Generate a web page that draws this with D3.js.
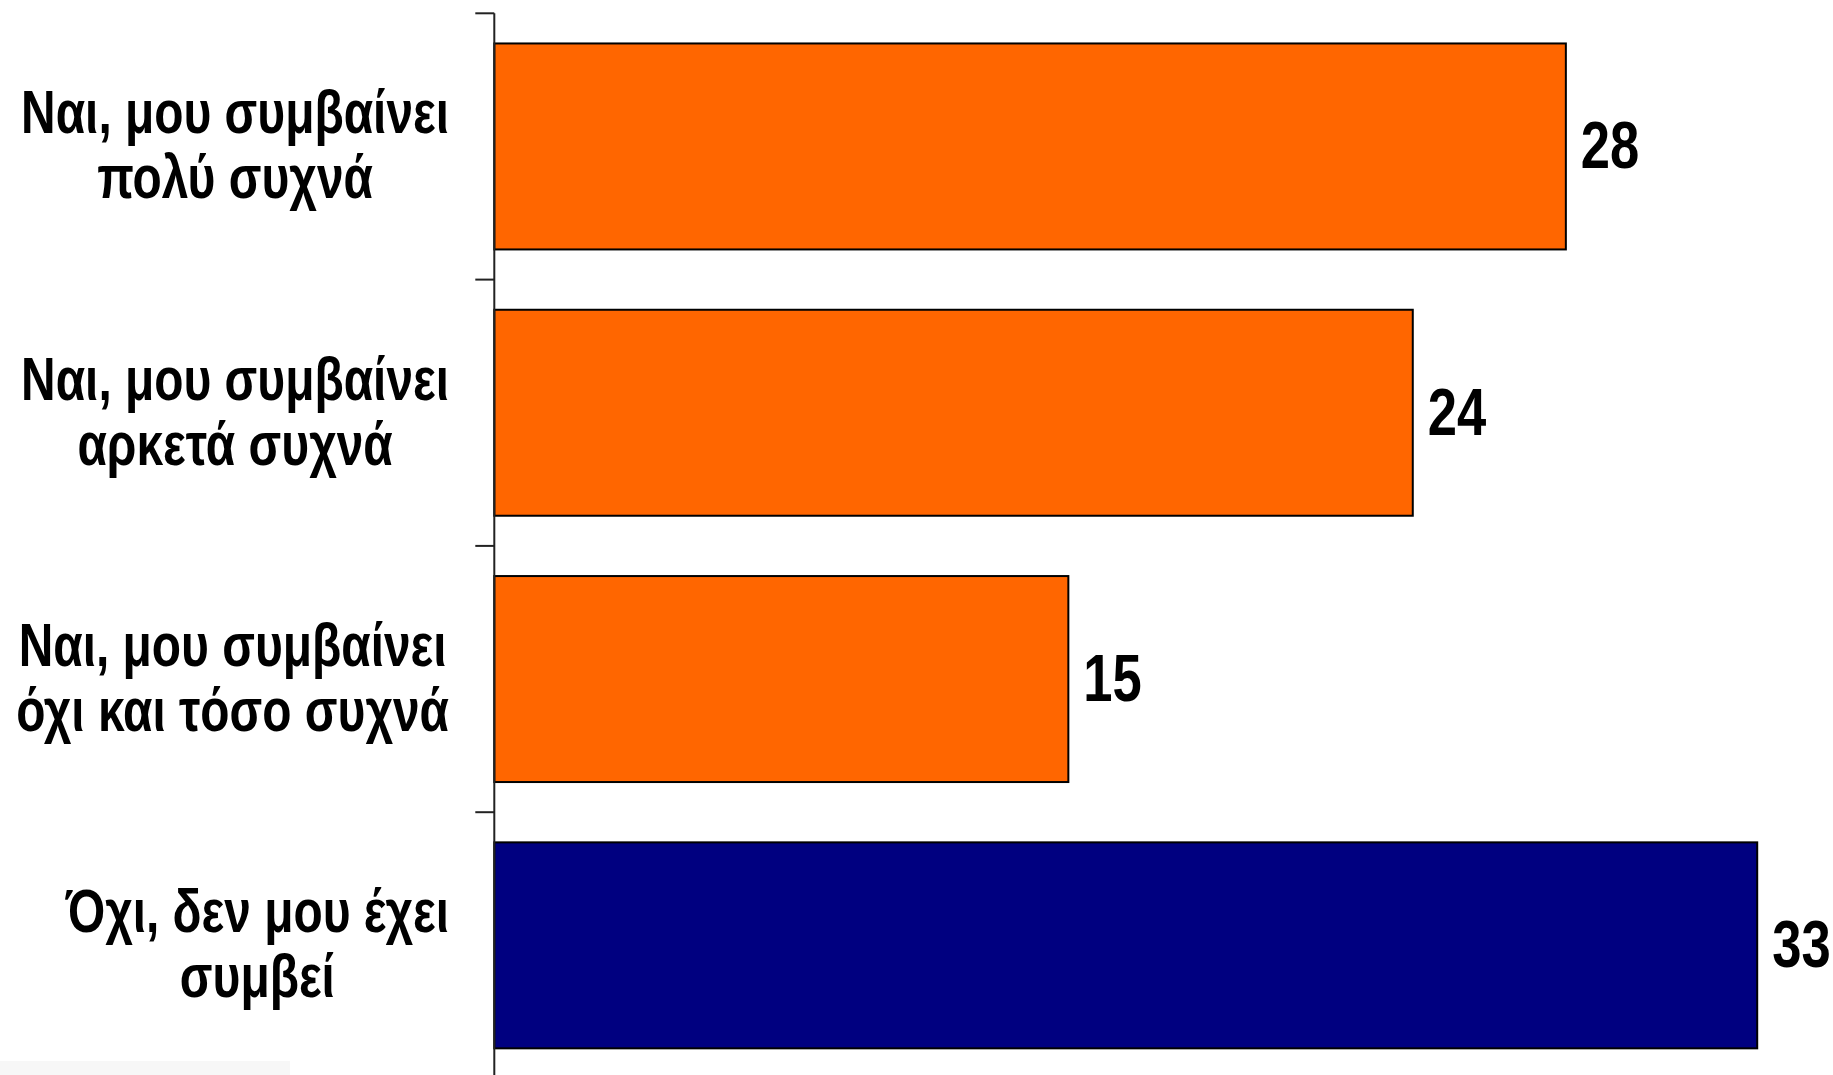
<!DOCTYPE html>
<html>
<head>
<meta charset="utf-8">
<script src="https://cdn.jsdelivr.net/npm/d3@7"></script>
<style>
  html, body { margin: 0; padding: 0; background: #ffffff; }
  svg { display: block; }
  .lbl, .val { font-family: "Liberation Sans Narrow", "Arial Narrow", "Liberation Sans", Arial, sans-serif; font-weight: bold; fill: #000; }
</style>
</head>
<body>
<svg id="chart" width="1833" height="1075"></svg>
<script>
// ---- data ----
const categories = [
  "Ναι, μου συμβαίνει\nπολύ συχνά",
  "Ναι, μου συμβαίνει\nαρκετά συχνά",
  "Ναι, μου συμβαίνει\nόχι και τόσο συχνά",
  "Όχι, δεν μου έχει\nσυμβεί"
];
const values = [28, 24, 15, 33];
const groups = ["yes", "yes", "yes", "no"];

// ---- layout / style ----
const W = 1833, H = 1075;
const axisX = 494.3;
const yTop = 13.3, step = 266.3;
const color = d3.scaleOrdinal().domain(["yes", "no"]).range(["#FF6600", "#000080"]);

const svg = d3.select("#chart");

const y = d3.scaleBand()
  .domain(categories)
  .range([yTop, yTop + step * categories.length])
  .paddingInner(0.2265)
  .paddingOuter(0.2265 / 2);

const x = d3.scaleLinear().domain([0, 35]).range([axisX, axisX + 35 * 38.27]);

const rows = categories.map((c, i) => ({ cat: c, value: values[i], group: groups[i] }));

// narrow-font emulation: calibrate horizontal squeeze from a probe text
const probe = svg.append("text").attr("class", "lbl").attr("font-size", 61).text("Ναι, μου συμβαίνει");
const probeW = probe.node().getComputedTextLength();
probe.remove();
const sx = Math.min(1, 428 / probeW);

// bars
svg.append("g").selectAll("rect")
  .data(rows)
  .join("rect")
  .attr("x", x(0))
  .attr("y", d => y(d.cat))
  .attr("width", d => x(d.value) - x(0))
  .attr("height", y.bandwidth())
  .attr("fill", d => color(d.group))
  .attr("stroke", "#000")
  .attr("stroke-width", 2);

// axis line + ticks at band boundaries
const boundaries = d3.range(categories.length + 1).map(i => yTop + i * step);
const ax = svg.append("g");
ax.append("line")
  .attr("x1", axisX).attr("x2", axisX)
  .attr("y1", yTop).attr("y2", H + 5)
  .attr("stroke", "#222").attr("stroke-width", 2);
ax.selectAll("line.tick")
  .data(boundaries)
  .join("line")
  .attr("class", "tick")
  .attr("x1", axisX - 19).attr("x2", axisX)
  .attr("y1", d => d).attr("y2", d => d)
  .attr("stroke", "#222").attr("stroke-width", 2);

// value labels
svg.append("g").selectAll("g")
  .data(rows)
  .join("g")
  .attr("transform", d => `translate(${x(d.value) + 15},${y(d.cat) + y.bandwidth() / 2 + 22}) scale(${sx},1)`)
  .append("text")
  .attr("class", "val")
  .attr("font-size", 67)
  .text(d => d.value);

// category labels: block right-aligned, lines centered within the block
const labelRight = 449;
rows.forEach(d => {
  const lines = d.cat.split("\n");
  const cy = y(d.cat) + y.bandwidth() / 2;
  const g = svg.append("g").attr("transform", `translate(${labelRight},0) scale(${sx},1)`);
  const t = g.append("text")
    .attr("class", "lbl")
    .attr("font-size", 61)
    .attr("text-anchor", "middle");
  const spans = lines.map((ln, j) => t.append("tspan")
    .attr("y", cy - 13 + j * 65)
    .text(ln));
  const widths = spans.map(s => s.node().getComputedTextLength());
  const bw = d3.max(widths);
  spans.forEach(s => s.attr("x", -bw / 2));
});

// faint cropped footer strip bottom-left
svg.append("rect")
  .attr("x", 0).attr("y", 1061).attr("width", 290).attr("height", 14)
  .attr("fill", "#f7f7f7");
</script>
</body>
</html>
